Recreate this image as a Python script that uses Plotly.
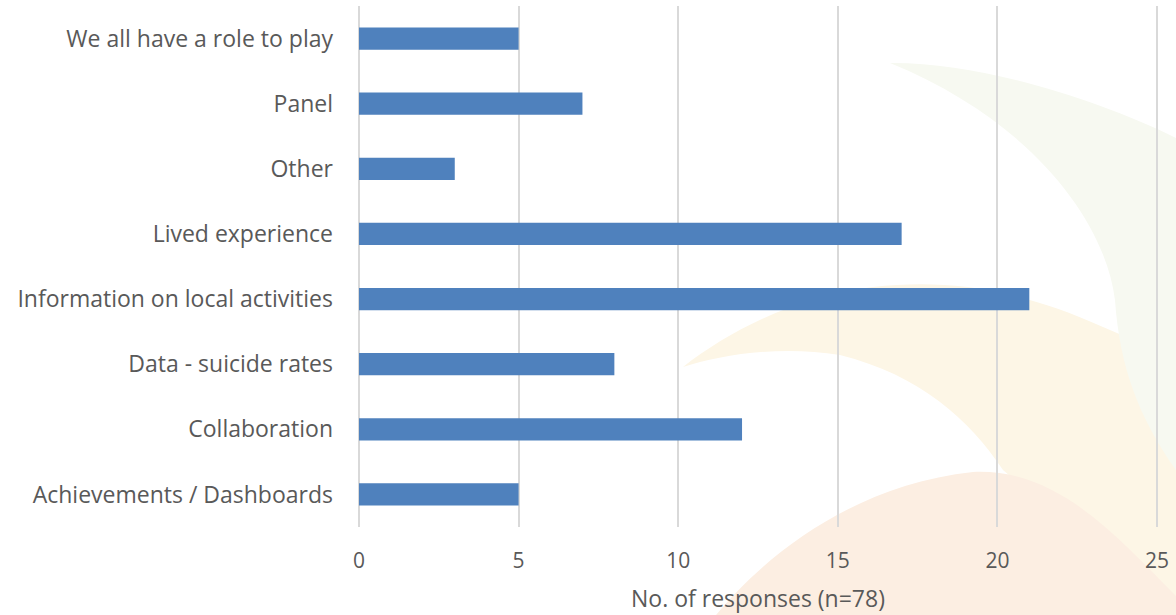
import plotly.graph_objects as go

categories = [
    "Achievements / Dashboards",
    "Collaboration",
    "Data - suicide rates",
    "Information on local activities",
    "Lived experience",
    "Other",
    "Panel",
    "We all have a role to play",
]
responses = [5, 12, 8, 21, 17, 3, 7, 5]
x_ticks = [0, 5, 10, 15, 20, 25]
x_title = "No. of responses (n=78)"

W, H = 1176, 615
X0_PX, X25_PX = 359, 1157
PAD_PX = 3
L, R, T, B = X0_PX - PAD_PX, W - X25_PX - PAD_PX, 6, 88
PW, PH = W - L - R, H - T - B
unit = (X25_PX - X0_PX) / 25
pad_units = PAD_PX / unit


def px(x, y):
    return (x - L) / PW, (H - B - y) / PH


def path(cmds):
    out = []
    for c in cmds:
        if isinstance(c, str):
            out.append(c)
        else:
            a, b = px(*c)
            out.append(f"{a:.4f},{b:.4f}")
    return " ".join(out)


shapes = [
    # upper orange leaf
    dict(type="path", xref="paper", yref="paper", layer="below",
         path=path(["M", (683, 367), "C", (730, 330), (800, 295), (873, 287),
                    "C", (940, 280), (1010, 285), (1103, 327),
                    "L", (1180, 360), "L", (1180, 620), "L", (1003, 470),
                    "C", (970, 420), (920, 375), (840, 355),
                    "C", (780, 345), (720, 355), (683, 367), "Z"]),
         fillcolor="rgb(253,246,230)", line=dict(width=0)),
    # lower orange leaf
    dict(type="path", xref="paper", yref="paper", layer="below",
         path=path(["M", (712, 620), "C", (760, 560), (850, 485), (973, 472),
                    "C", (1060, 468), (1120, 540), (1180, 600),
                    "L", (1180, 620), "Z"]),
         fillcolor="rgb(252,238,226)", line=dict(width=0)),
    # green leaf (top right)
    dict(type="path", xref="paper", yref="paper", layer="below",
         path=path(["M", (890, 63), "C", (980, 62), (1100, 100), (1180, 140),
                    "L", (1180, 476), "C", (1140, 420), (1120, 370), (1115, 300),
                    "C", (1105, 220), (1030, 120), (890, 63), "Z"]),
         fillcolor="rgb(247,249,241)", line=dict(width=0)),
]

fig = go.Figure(
    go.Bar(
        x=responses,
        y=categories,
        orientation="h",
        marker=dict(color="#4f81bd", line=dict(width=0)),
        width=0.34,
    )
)

font_family = "Open Sans, Liberation Sans, sans-serif"
fig.update_layout(
    width=W,
    height=H,
    margin=dict(l=L, r=R, t=T, b=B, pad=0),
    paper_bgcolor="white",
    plot_bgcolor="rgba(0,0,0,0)",
    showlegend=False,
    shapes=shapes,
    font=dict(family=font_family, color="#595959", size=23),
    xaxis=dict(
        range=[-pad_units, 25 + pad_units],
        tickvals=x_ticks,
        showgrid=True,
        gridcolor="#d9d9d9",
        gridwidth=2,
        zeroline=False,
        showline=False,
        ticks="",
        ticklabelstandoff=19,
        tickfont=dict(size=21, color="#595959"),
        title=dict(text=x_title, font=dict(size=23, color="#595959"), standoff=17),
    ),
    yaxis=dict(
        range=[-0.5, 7.5],
        showgrid=False,
        zeroline=False,
        showline=False,
        ticks="",
        ticklabelstandoff=22,
        tickfont=dict(size=23, color="#595959"),
    ),
)

fig.write_html(
    "out.html",
    config={"displayModeBar": False},
    post_script="document.body.style.margin='0';document.body.style.overflow='hidden';",
)
